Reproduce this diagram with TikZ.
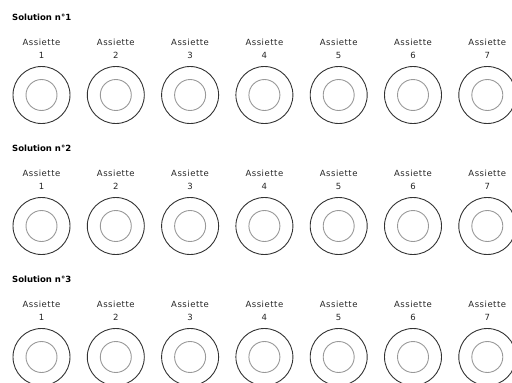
\documentclass[tikz,border=0pt]{standalone}
\usepackage{fontspec}
\setmainfont{DejaVu Sans}
\begin{document}
\begin{tikzpicture}[x=1pt,y=-1pt]
  \useasboundingbox (0,0) rectangle (512,383);
  \tikzset{
    soltitle/.style={font=\bfseries\fontsize{8.5}{10}\selectfont, anchor=west, inner sep=0pt},
    platelabel/.style={font=\addfontfeature{LetterSpace=6}\fontsize{8.5}{10}\selectfont, text=black!85, inner sep=0pt},
    outerplate/.style={circle, draw=black!80, line width=0.9pt, minimum size=57pt, inner sep=0pt},
    innerplate/.style={circle, draw=black!40, line width=0.9pt, minimum size=31pt, inner sep=0pt}
  }
  % we draw the three solutions, seven plates each
  \foreach \r/\yy in {1/0, 2/131, 3/262} {
    \node[soltitle] (sol\r) at (12, 17+\yy) {Solution n°\r};
    \foreach \p in {1,...,7} {
      \node[platelabel] (ass\r\p) at (41.5+74.3*\p-74.3, 42+\yy) {Assiette};
      \node[platelabel] (num\r\p) at (41.5+74.3*\p-74.3, 55+\yy) {\p};
      % we draw the plate (outer rim and inner dish)
      \node[outerplate] (plate\r\p) at (41.5+74.3*\p-74.3, 95+\yy) {};
      \node[innerplate] (dish\r\p) at (plate\r\p.center) {};
    }
  }
\end{tikzpicture}
\end{document}
